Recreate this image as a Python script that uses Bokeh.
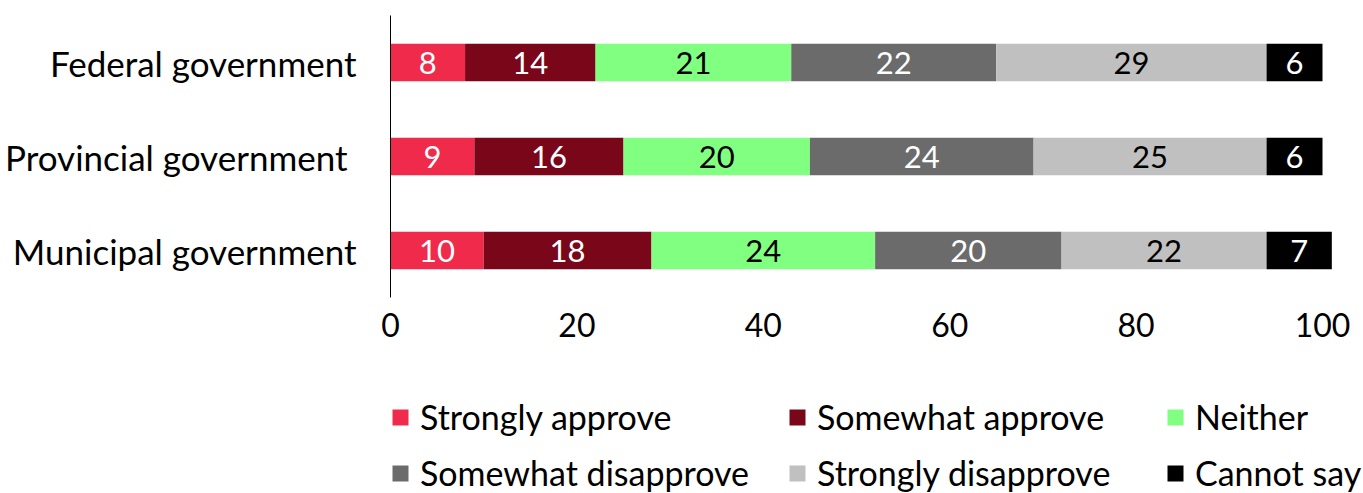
from bokeh.plotting import figure
from bokeh.layouts import column
from bokeh.models import ColumnDataSource, FactorRange, Legend, LegendItem, Range1d, FixedTicker
from bokeh.embed import file_html
from bokeh.resources import INLINE
from bokeh.core.properties import value

categories = ["Federal government", "Provincial government ", "Municipal government"]
series = ["Strongly approve", "Somewhat approve", "Neither",
          "Somewhat disapprove", "Strongly disapprove", "Cannot say"]
strongly_approve = [8, 9, 10]
somewhat_approve = [14, 16, 18]
neither = [21, 20, 24]
somewhat_disapprove = [22, 24, 20]
strongly_disapprove = [29, 25, 22]
cannot_say = [6, 6, 7]
values = [strongly_approve, somewhat_approve, neither,
          somewhat_disapprove, strongly_disapprove, cannot_say]
colors = ["#EF2A4B", "#7A0619", "#80FF80", "#6B6B6B", "#C0C0C0", "#000000"]
label_colors = ["white", "white", "black", "white", "black", "white"]
x_ticks = [0, 20, 40, 60, 80, 100]

FONT = "Lato"

W = 1362
H_MAIN, H_LEG = 360, 133
LEFT, RIGHT, TOP, BOTTOM = 390, 0, 15, 63
frame_w = W - LEFT - RIGHT
x_end = 100 * frame_w / 932.0

p = figure(width=W, height=H_MAIN, output_backend="svg", toolbar_location=None,
           y_range=FactorRange(factors=list(reversed(categories)), range_padding=0),
           x_range=Range1d(0, x_end),
           min_border_left=LEFT, min_border_right=RIGHT,
           min_border_top=TOP, min_border_bottom=BOTTOM)
p.outline_line_color = None
p.grid.visible = False

# legend figure below the chart (same data, zero-height bars scrolled out of view)
q = figure(width=W, height=H_LEG, output_backend="svg", toolbar_location=None,
           x_range=Range1d(1000, 1001), y_range=FactorRange(factors=categories),
           x_axis_type=None, y_axis_type=None, min_border=0,
           min_border_left=LEFT, min_border_right=RIGHT)
q.outline_line_color = None
q.grid.visible = False

left = [0.0] * len(categories)
leg_renderers = []
for name, vals, col, lc in zip(series, values, colors, label_colors):
    right = [l + v for l, v in zip(left, vals)]
    mid = [(l + r) / 2 for l, r in zip(left, right)]
    src = ColumnDataSource(dict(cat=categories, left=left, right=right, mid=mid,
                                txt=[str(v) for v in vals]))
    p.hbar(y="cat", left="left", right="right", height=0.40, source=src,
           fill_color=col, line_color=None)
    p.text(x="mid", y="cat", text="txt", source=src, text_align="center",
           text_baseline="middle", text_color=lc, text_font=value(FONT),
           text_font_size="31px")
    leg_renderers.append(q.hbar(y="cat", left="left", right="right", height=0.0,
                                source=src, fill_color=col, line_color=None))
    left = right

p.xaxis.ticker = FixedTicker(ticks=x_ticks)
p.xaxis.axis_line_color = None
p.xaxis.major_tick_line_color = None
p.xaxis.minor_tick_line_color = None
p.xaxis.major_label_text_font = FONT
p.xaxis.major_label_text_font_size = "32px"
p.xaxis.major_label_text_color = "black"
p.xaxis.major_label_standoff = 9

p.yaxis.axis_line_color = "black"
p.yaxis.axis_line_width = 1
p.yaxis.major_tick_line_color = None
p.yaxis.minor_tick_line_color = None
p.yaxis.major_label_text_font = FONT
p.yaxis.major_label_text_font_size = "35px"
p.yaxis.major_label_text_color = "black"
p.yaxis.major_label_standoff = 28

# legend columns, positioned relative to the legend figure's frame (left = 390)
col_x = [0, 397, 775]
for c in range(3):
    items = [LegendItem(label=series[c], renderers=[leg_renderers[c]]),
             LegendItem(label=series[c + 3], renderers=[leg_renderers[c + 3]])]
    lg = Legend(items=items, orientation="vertical", location=(col_x[c], 0),
                glyph_width=20, glyph_height=20, label_standoff=10, spacing=15,
                padding=0, margin=0, label_text_font=FONT,
                label_text_font_size="34px", label_text_color="black",
                border_line_color=None, background_fill_alpha=0)
    q.add_layout(lg, "center")

layout = column(p, q, spacing=0)
open("out.html", "w").write(file_html(layout, INLINE))
